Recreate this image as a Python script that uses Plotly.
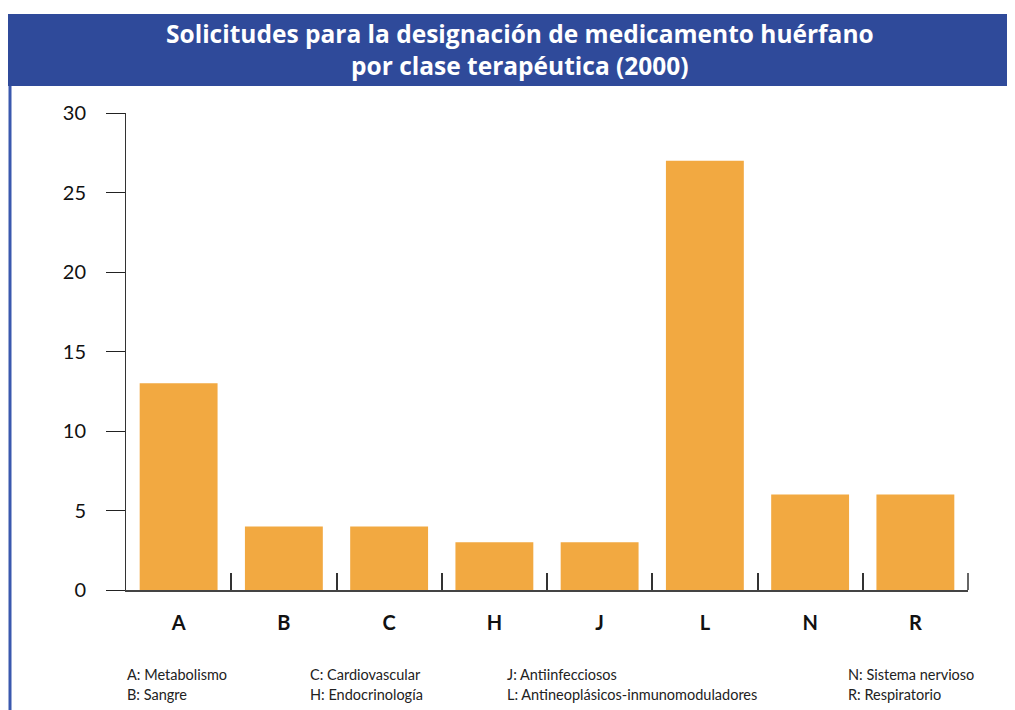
import plotly.graph_objects as go

categories = ["A", "B", "C", "H", "J", "L", "N", "R"]
values = [13, 4, 4, 3, 3, 27, 6, 6]
y_ticks = [0, 5, 10, 15, 20, 25, 30]
legend_col1 = ["A: Metabolismo", "B: Sangre"]
legend_col2 = ["C: Cardiovascular", "H: Endocrinología"]
legend_col3 = ["J: Antiinfecciosos", "L: Antineoplásicos-inmunomoduladores"]
legend_col4 = ["N: Sistema nervioso", "R: Respiratorio"]
title_text = "Solicitudes para la designación de medicamento huérfano<br>por clase terapéutica (2000)"

OFF = 8  # page body margin
W, H = 1007, 702
L, R, T, B = 118, 47, 105, 120
pw, ph = W - L - R, H - T - B
TICKLEN_X = 17

def px(x):
    return (x - OFF - L) / pw

def py(y):
    return (H - B - (y - OFF)) / ph

fig = go.Figure()
fig.add_trace(go.Bar(x=categories, y=values, marker=dict(color="#F2A941", line=dict(width=0)),
                     hoverinfo="x+y"))

shapes = [
    dict(type="rect", xref="paper", yref="paper", x0=px(OFF), x1=px(1016), y0=py(86), y1=py(14),
         fillcolor="#2F4A9A", line=dict(width=0), layer="below"),
    dict(type="line", xref="paper", yref="paper", x0=px(10), x1=px(10), y0=py(86), y1=py(712),
         line=dict(color="#3A58AE", width=3)),
    # closing tick at the right end of the category axis
    dict(type="line", xref="paper", yref="paper", x0=1, x1=1, y0=0, y1=TICKLEN_X / ph,
         line=dict(color="#333", width=1.5)),
]

annotations = [
    dict(text="<b>" + title_text + "</b>", xref="paper", yref="paper", x=px(520), y=py(49),
         xanchor="center", yanchor="middle", showarrow=False,
         font=dict(family="Open Sans", size=24.5, color="white", weight=800), align="center"),
]
cols = [(125, legend_col1), (308, legend_col2), (505, legend_col3), (846, legend_col4)]
for cx, items in cols:
    for i, t in enumerate(items):
        annotations.append(dict(text=t, xref="paper", yref="paper", x=px(cx), y=py(674 + 20 * i),
                                xanchor="left", yanchor="middle", showarrow=False,
                                font=dict(family="Lato", size=14.5, color="#222")))

fig.update_layout(
    width=W, height=H,
    margin=dict(l=L, r=R, t=T, b=B, pad=0),
    plot_bgcolor="white", paper_bgcolor="white",
    bargap=0.26,
    showlegend=False,
    shapes=shapes,
    annotations=annotations,
    xaxis=dict(type="category", tickson="boundaries", ticks="inside", ticklen=TICKLEN_X,
               tickcolor="#333", tickwidth=1.5, showline=True, linecolor="#444", linewidth=2,
               showgrid=False, tickfont=dict(family="Lato", size=20, color="#111"),
               tickprefix="<b>", ticksuffix="</b>", ticklabelstandoff=14),
    yaxis=dict(range=[0, 30], tickvals=y_ticks, ticks="outside", ticklen=19, tickcolor="#222",
               tickwidth=1, showline=True, linecolor="#333", linewidth=1, showgrid=False,
               zeroline=False, tickfont=dict(family="Lato", size=20, color="#111"),
               ticklabelstandoff=16),
)

fig.write_html("out.html")
